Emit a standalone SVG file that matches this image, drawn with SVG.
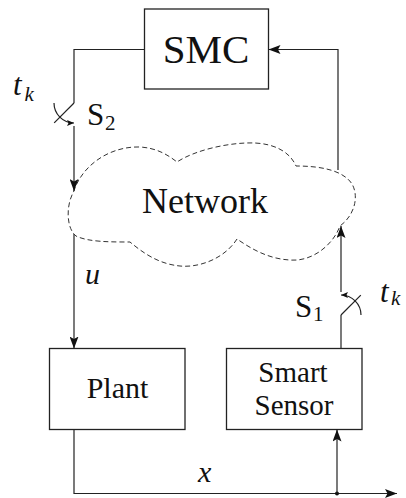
<svg xmlns="http://www.w3.org/2000/svg" width="406" height="498" viewBox="0 0 406 498">
  <style>
    .box { fill: #ffffff; stroke: #222; stroke-width: 1.3; }
    .cloud { fill: #ffffff; stroke: #333; stroke-width: 1; stroke-dasharray: 5 3; }
    .wire { fill: none; stroke: #222; stroke-width: 1.2; }
    text { font-family: 'Liberation Serif', 'DejaVu Serif', serif; fill: #111; }
    .it { font-style: italic; }
  </style>
  <defs>
    <marker id="arr" markerUnits="userSpaceOnUse" markerWidth="13" markerHeight="9" refX="12" refY="4.5" orient="auto">
      <path d="M0,0 L12,4.5 L0,9 L2.5,4.5 Z" fill="#111"/>
    </marker>
    <marker id="sarr" markerUnits="userSpaceOnUse" markerWidth="8" markerHeight="6" refX="7" refY="3" orient="auto">
      <path d="M0,0 L7,3 L0,6 L1.5,3 Z" fill="#111"/>
    </marker>
  </defs>

  <g font-family="Liberation Serif, DejaVu Serif, serif">
  <g id="smc">
    <rect class="box" x="144.5" y="9" width="124" height="80"/>
    <text x="206" y="63" font-size="41" text-anchor="middle">SMC</text>
  </g>

  <g id="network">
    <path class="cloud" d="M73.5,192 C82,165 110,146 140,147 C157,148 168,155 177,162 C195,150 230,142 255,143 C275,144 290,152 296,166 C320,166 343,170 352,184 C359,196 355,215 340,226 C333,245 312,262 290,260 C268,259 250,248 237,239 C225,258 200,268 180,266 C158,264 142,252 130,242 C110,242 88,242 76,236 C66,228 66,205 73.5,192 Z"/>
    <text x="205" y="213" font-size="36" text-anchor="middle">Network</text>
  </g>

  <g id="plant">
    <rect class="box" x="49.5" y="348.5" width="135.5" height="81"/>
    <text x="117.5" y="398" font-size="30" text-anchor="middle">Plant</text>
  </g>

  <g id="sensor">
    <rect class="box" x="226.5" y="348.5" width="135.5" height="81"/>
    <text x="293" y="381.5" font-size="29" text-anchor="middle">Smart</text>
    <text x="294" y="414.5" font-size="29" text-anchor="middle">Sensor</text>
  </g>

  <g id="connectors">
    <path class="wire" d="M144.5,49.5 H74 V103"/>
    <path class="wire" d="M74,103 L54.2,122.8"/>
    <path class="wire" d="M54,103 A20,20 0 0 0 74,123" marker-end="url(#sarr)"/>
    <path class="wire" d="M74,126 V191" marker-end="url(#arr)"/>
    <path class="wire" d="M74,234 V348.5" marker-end="url(#arr)"/>
    <path class="wire" d="M74,430 V493.5 H397" marker-end="url(#arr)"/>
    <circle cx="337" cy="493.5" r="2" fill="#111"/>
    <path class="wire" d="M337,493.5 V429.5" marker-end="url(#arr)"/>
    <path class="wire" d="M341,348.5 V315"/>
    <path class="wire" d="M341,315 L360.8,295.2"/>
    <path class="wire" d="M361,315 A20,20 0 0 0 341,295" marker-end="url(#sarr)"/>
    <path class="wire" d="M341,292 V226" marker-end="url(#arr)"/>
    <path class="wire" d="M338,170 V49.5 H268.5" marker-end="url(#arr)"/>
  </g>

  <g id="labels">
    <text class="it" x="13" y="95" font-size="31">t</text>
    <text class="it" x="24.5" y="101" font-size="21">k</text>
    <text x="87" y="125" font-size="31">S</text>
    <text x="105" y="130" font-size="21">2</text>
    <text class="it" x="85" y="284" font-size="30">u</text>
    <text x="295" y="317" font-size="31">S</text>
    <text x="313" y="321" font-size="21">1</text>
    <text class="it" x="380" y="301.5" font-size="31">t</text>
    <text class="it" x="391" y="305" font-size="21">k</text>
    <text class="it" x="198" y="481.5" font-size="30">x</text>
  </g>
  </g>
</svg>
